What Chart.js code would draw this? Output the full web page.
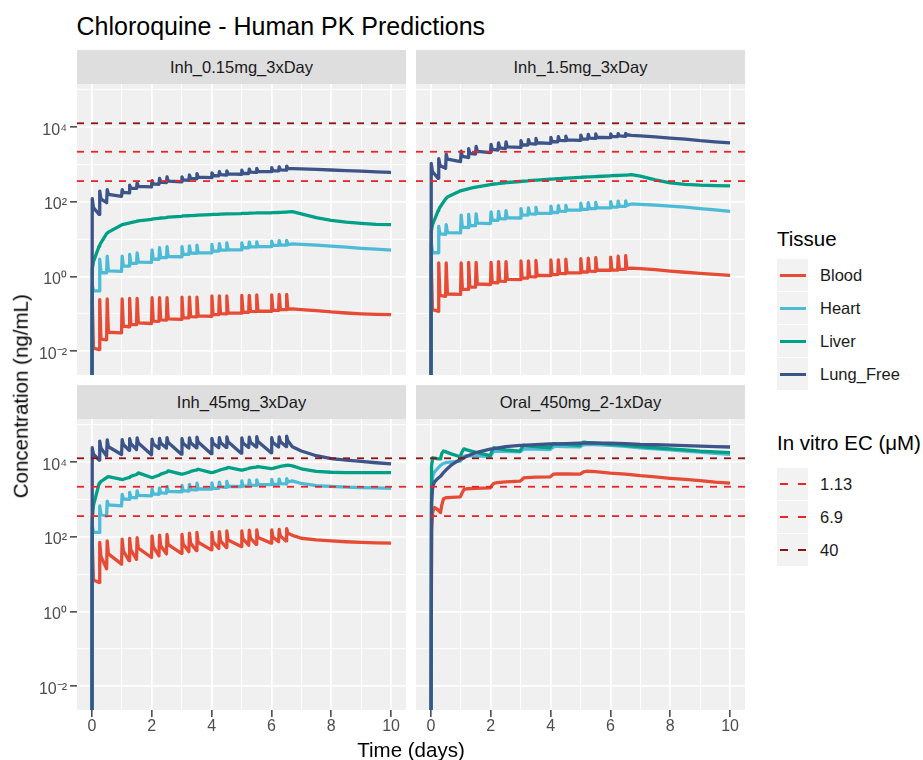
<!DOCTYPE html>
<html><head><meta charset="utf-8">
<script src="https://cdn.jsdelivr.net/npm/chart.js@4.4.1/dist/chart.umd.min.js"></script>
<style>
html,body{margin:0;padding:0;background:#fff;}
body{width:923px;height:760px;position:relative;overflow:hidden;font-family:"Liberation Sans",Arial,Helvetica,sans-serif;}
canvas{position:absolute;}
.t{position:absolute;white-space:nowrap;line-height:1;}
.strip{position:absolute;background:#DEDEDE;height:34px;width:329px;}
.strip .t{left:0;right:0;text-align:center;font-size:16.5px;color:#1A1A1A;top:9.3px;}
.key{position:absolute;left:777px;width:31px;height:32px;background:#F2F2F2;}
.kl{position:absolute;left:3px;width:26px;height:3px;top:14.5px;}
.kd{position:absolute;height:2px;top:15px;width:8px;}
.lt{position:absolute;left:820px;font-size:16.5px;color:#1A1A1A;line-height:1;white-space:nowrap;}
</style></head>
<body>
<div class="t" style="left:76.5px;top:13.8px;font-size:25px;color:#000;">Chloroquine - Human PK Predictions</div>

<div class="strip" style="left:77px;top:50px;"><div class="t" id="s0"></div></div>
<div class="strip" style="left:416px;top:50px;"><div class="t" id="s1"></div></div>
<div class="strip" style="left:77px;top:385px;"><div class="t" id="s2"></div></div>
<div class="strip" style="left:416px;top:385px;"><div class="t" id="s3"></div></div>

<canvas id="c0" width="406" height="291" style="left:0px;top:84px;width:406px;height:291px;"></canvas>
<canvas id="c1" width="329" height="291" style="left:416px;top:84px;width:329px;height:291px;"></canvas>
<canvas id="c2" width="406" height="321" style="left:0px;top:419px;width:406px;height:321px;"></canvas>
<canvas id="c3" width="329" height="321" style="left:416px;top:419px;width:329px;height:321px;"></canvas>

<div class="t" style="left:311px;width:200px;text-align:center;top:740px;font-size:20.5px;color:#000;">Time (days)</div>
<div class="t" style="left:-129px;top:385.75px;width:300px;text-align:center;font-size:20.5px;color:#000;transform:rotate(-90deg);transform-origin:150px 10.25px;">Concentration (ng/mL)</div>

<div id="legend"></div>

<script>
// ---------------- DATA ----------------
const panelNames = ['Inh_0.15mg_3xDay', 'Inh_1.5mg_3xDay', 'Inh_45mg_3xDay', 'Oral_450mg_2-1xDay'];
const tissues = ['Blood', 'Heart', 'Liver', 'Lung_Free'];
const tissueColors = ['#E64B35', '#4DBBD5', '#00A087', '#3C5488'];
const ecLabels = ['1.13', '6.9', '40'];            // in vitro EC (uM)
const ecLevels = [361, 2207, 12795];               // same, in ng/mL
const ecColors = ['#E8262A', '#E8262A', '#8E1414'];
const xTickValues = [0, 1, 2, 3, 4, 5, 6, 7, 8, 9, 10];
const xTickLabels = ['0', '', '2', '', '4', '', '6', '', '8', '', '10'];
const yTickValues = [1e-2, 1e-1, 1, 10, 100, 1000, 1e4, 1e5];
const yTickLabels = ['10\u207B\u00B2', '', '10\u2070', '', '10\u00B2', '', '10\u2074', ''];
const xMin = -0.5, xMax = 10.5;
const yMin = 0.00229, yMax = 144500;

// time grid (days) for the inhaled regimens
const tInh = [0,
 0.01,0.05,0.24,0.26,0.30,0.49,0.51,0.55,0.99,
 1.01,1.05,1.24,1.26,1.30,1.49,1.51,1.55,1.99,
 2.01,2.05,2.24,2.26,2.30,2.49,2.51,2.55,2.99,
 3.01,3.05,3.24,3.26,3.30,3.49,3.51,3.55,3.99,
 4.01,4.05,4.24,4.26,4.30,4.49,4.51,4.55,4.99,
 5.01,5.05,5.24,5.26,5.30,5.49,5.51,5.55,5.99,
 6.01,6.05,6.24,6.26,6.30,6.49,6.51,6.55,
 6.7,7.0,7.5,8.0,8.5,9.0,9.5,10.0];

// time grid (days) for the oral regimen
const tOral = [0,0.02,0.06,0.12,0.2,0.32,0.36,0.42,0.5,0.7,0.98,
 1.04,1.1,1.2,1.5,1.98,
 2.04,2.1,2.2,2.5,2.98,
 3.04,3.1,3.2,3.5,3.98,
 4.04,4.1,4.2,4.5,4.98,
 5.04,5.1,5.2,5.5,
 6,6.5,7,7.5,8,8.5,9,9.5,10];

// ---- Inh_0.15mg_3xDay (ng/mL)
const inh015Blood = [0.0001,
 0.24,0.012,0.011,0.24,0.021,0.020,0.25,0.032,0.031,
 0.25,0.047,0.045,0.26,0.052,0.051,0.26,0.057,0.055,
 0.27,0.064,0.063,0.27,0.069,0.068,0.27,0.073,0.071,
 0.28,0.079,0.078,0.28,0.084,0.083,0.28,0.088,0.086,
 0.30,0.096,0.095,0.30,0.101,0.100,0.30,0.106,0.104,
 0.31,0.111,0.110,0.31,0.116,0.115,0.32,0.118,0.117,
 0.32,0.124,0.123,0.33,0.130,0.129,0.33,0.134,
 0.135,0.130,0.122,0.112,0.105,0.100,0.097,0.095];
const inh015Heart = [0.0001,
 0.6,0.42,0.41,2.9,1.28,1.26,3.5,1.42,1.38,
 3.5,1.92,1.9,3.9,2.26,2.24,4.3,2.42,2.38,
 5.2,2.92,2.9,5.9,3.22,3.2,6.3,3.42,3.38,
 6.3,3.92,3.9,6.6,4.22,4.2,6.9,4.32,4.3,
 7.2,4.82,4.8,7.6,5.12,5.1,7.9,5.22,5.2,
 7.9,5.92,5.9,8.3,6.22,6.2,8.5,6.32,6.3,
 8.9,6.82,6.8,9.1,6.92,6.9,9.3,7.2,
 7.5,7.3,6.9,6.5,6.1,5.7,5.4,5.1];
const inh015Liver = [0.0001,
 1.6,2.5,6.5,7.0,8.0,14,14.5,15.5,24,
 24.5,25,27,27.5,28,30,30.5,31,34,
 34.5,35,36,36.5,37,38,38.5,39,41,
 41.5,42,42.5,43,43,43.5,44,44,45.5,
 46,46,46.5,47,47,47.5,48,48,48.5,
 49,49,49.5,50,50,50.5,50.5,51,51,
 51.5,51.5,52,52,52.5,53,53.5,54,
 55,48,38,32,28.5,26.5,25,24.5];
const inh015Lung = [0.0001,
 123,70,46,195,120,95,214,160,141,
 214,180,174,282,235,229,324,262,251,
 372,305,295,427,340,331,468,360,347,
 468,390,380,525,425,417,575,460,447,
 603,510,501,646,535,525,676,560,550,
 708,585,575,759,625,617,794,655,646,
 832,690,676,871,720,708,912,790,
 780,765,740,715,690,665,640,617];

// ---- Inh_1.5mg_3xDay (ng/mL)
const inh15Blood = [0.0001,
 2.3,0.13,0.117,2.3,0.31,0.295,2.3,0.34,0.33,
 2.3,0.46,0.45,2.4,0.53,0.52,2.4,0.63,0.61,
 2.4,0.69,0.68,2.5,0.75,0.74,2.5,0.84,0.82,
 2.6,0.92,0.91,2.6,0.99,0.98,2.7,1.08,1.06,
 2.8,1.13,1.12,2.8,1.21,1.2,2.9,1.27,1.25,
 3.0,1.33,1.32,3.1,1.39,1.38,3.2,1.49,1.47,
 3.3,1.49,1.48,3.5,1.56,1.55,3.6,1.65,
 1.68,1.62,1.52,1.40,1.30,1.21,1.14,1.07];
const inh15Heart = [0.0001,
 8,4.4,4.3,22,13.8,13.5,24.5,15,14.8,
 44,21,20.4,46,23.5,23,48,26.8,26.3,
 54,32.5,32,56,35.5,35,58,37.5,37,
 66,44.5,44,69,47.5,47,71,49.5,49,
 77,52.5,52,79,56.5,56,81,60.5,60,
 92,63.5,63,95,66.5,66,97,69.5,69,
 102,72.5,72,105,76.5,76,107,80,
 88,86,82,77,72,66,61,56];
const inh15Liver = [0.0001,
 16,24,58,62,72,120,125,135,198,
 200,204,222,225,229,248,250,254,292,
 294,297,310,312,315,326,328,331,352,
 354,357,368,370,372,381,382,385,405,
 406,408,418,419,421,430,431,433,455,
 456,458,466,467,469,476,477,479,500,
 501,503,510,511,513,520,521,524,
 535,490,390,325,295,280,272,269];
const inh15Lung = [0.0001,
 1070,650,427,1445,950,794,1905,1400,1200,
 2290,1650,1550,2690,2000,1905,3090,2250,2090,
 3470,2550,2450,3800,2800,2690,4070,3000,2880,
 4365,3400,3310,4680,3650,3550,5010,3850,3715,
 5370,4150,4070,5620,4450,4365,5750,4600,4470,
 6170,4900,4790,6460,5100,5010,6610,5400,5250,
 6610,5700,5620,6760,5850,5750,6900,6300,
 6100,5900,5500,5130,4790,4370,4070,3800];

// ---- Inh_45mg_3xDay (ng/mL)
const inh45Blood = [0.0001,
 70,7,6,71,30,14,78,35,18.6,
 87,42,23,91,45,25,95,50,28,
 107,55,31,112,58,35,117,62,36,
 117,65,40,126,68,43,132,72,45,
 132,75,49,138,78,52,145,82,55,
 145,88,60,151,92,63,155,96,68,
 155,100,74,158,105,78,166,125,
 110,92,83,78,74,71,69,68];
const inh45Heart = [0.0001,
 200,135,132,676,400,363,912,720,676,
 1380,1050,1020,1550,1150,1120,1700,1300,1260,
 1905,1420,1380,2040,1520,1480,2240,1660,1620,
 2400,1740,1700,2570,1860,1820,2750,1950,1905,
 2820,2040,2000,2950,2180,2140,3090,2280,2240,
 3160,2330,2290,3310,2440,2400,3390,2550,2510,
 3470,2610,2570,3550,2680,2630,3630,3000,
 3160,2700,2350,2250,2150,2100,2050,2000];
const inh45Liver = [0.0001,
 300,700,2700,2850,3050,3900,4000,4150,3500,
 3450,3500,3900,4000,4200,4700,4800,5200,3900,
 3880,3950,4500,4600,4800,5400,5500,5900,4800,
 4790,4850,5400,5500,5700,6200,6300,6500,5250,
 5250,5350,6000,6100,6300,6900,7000,7250,6200,
 6170,6250,6800,6900,7100,7400,7500,7600,6800,
 6760,6850,7500,7600,7800,8200,8300,8400,
 8000,6700,5700,5400,5300,5250,5250,5250];
const inh45Lung = [0.0001,
 24500,16500,11500,37000,24000,14800,40000,26000,16200,
 40700,30000,21000,42700,31500,22000,44700,33000,16000,
 41700,31000,23400,43600,32500,24000,45700,34000,16500,
 42700,32000,24000,44700,33500,24500,46800,35000,17000,
 43600,32500,24500,45700,34000,25000,47900,35500,17500,
 44700,33000,25000,46800,34500,25700,48900,36000,18000,
 45700,34000,25700,47900,35500,26300,50000,38000,
 26000,20000,15000,12600,11400,10500,9700,9100];

// ---- Oral_450mg_2-1xDay (ng/mL)
const oralBlood = [0.0001,150,480,610,560,450,700,1050,1120,1150,1180,
 1500,1850,1950,2000,2050,
 2400,2700,2850,3000,3140,
 3400,3800,3900,4000,4070,
 4400,4800,4900,4850,4790,
 5100,5500,5750,5620,
 5130,4790,4370,4070,3720,3470,3240,2950,2750];
const oralHeart = [0.0001,1500,4270,5500,6500,8300,8700,9300,9800,10300,10700,
 12500,14500,15100,14800,14100,
 17000,19500,20000,19700,19000,
 21000,22500,22900,22600,22000,
 24000,26000,26900,26500,26000,
 28000,29500,30200,29800,
 28200,26600,24500,23000,21400,20000,18600,17400,16200];
const oralLiver = [0.0001,8000,13200,13000,12600,12300,17000,20000,19000,16500,14100,
 19000,22900,21500,18500,15100,
 20000,24500,23500,21500,20000,
 24500,28200,27500,26500,24500,
 28500,31600,31000,30000,28200,
 32000,34700,34000,33000,
 30200,28500,26300,24500,22900,21500,20000,19000,18200];
const oralLung = [0.0001,800,2300,3000,3500,4200,4600,5300,6200,8700,12000,
 12500,13200,14500,18200,22400,
 22800,23200,24000,26300,28200,
 28400,28600,28900,29800,30900,
 31000,31100,31300,31800,32400,
 32500,32500,32600,32600,
 32400,31600,30200,29500,28800,28000,27000,26300,25700];

// ---------------- DRAWING ----------------
const FONT = '"Liberation Sans", Arial, Helvetica, sans-serif';

const panelBg = {
  id: 'panelBg',
  beforeDraw(chart) {
    const a = chart.chartArea, c = chart.ctx;
    c.save(); c.fillStyle = '#F0F0F0';
    c.fillRect(a.left, a.top, a.right - a.left, a.bottom - a.top);
    c.restore();
  }
};

function buildPanel(idx, times, series, showY, showX) {
  document.getElementById('s' + idx).textContent = panelNames[idx];
  const datasets = [];
  ecLevels.forEach((v, i) => datasets.push({
    label: 'EC ' + ecLabels[i],
    data: [{x: xMin, y: v}, {x: xMax, y: v}],
    borderColor: ecColors[i], borderWidth: 1.8, borderDash: [7, 7],
    pointRadius: 0, order: 0, tension: 0
  }));
  series.forEach((arr, i) => datasets.push({
    label: tissues[i],
    data: times.map((t, j) => ({x: t, y: arr[j]})),
    borderColor: tissueColors[i], borderWidth: 3.3, pointRadius: 0,
    order: 4 - i, tension: 0, borderJoinStyle: 'round'
  }));
  new Chart(document.getElementById('c' + idx), {
    type: 'line',
    data: {datasets},
    plugins: [panelBg],
    options: {
      responsive: false, animation: false, devicePixelRatio: 1,
      layout: {padding: 0, autoPadding: false},
      plugins: {legend: {display: false}, tooltip: {enabled: false}},
      events: [],
      scales: {
        x: {
          type: 'linear', min: xMin, max: xMax,
          afterBuildTicks: s => { s.ticks = xTickValues.map(v => ({value: v})); },
          afterFit: s => { s.height = showX ? 30 : 0; s.paddingLeft = 0; s.paddingRight = 0; },
          border: {display: false},
          grid: {
            color: '#FFFFFF',
            lineWidth: c => (c.tick && c.tick.value % 2 === 0) ? 1.7 : 0.9,
            drawTicks: showX, tickLength: 7, tickWidth: 1.4,
            tickColor: c => (c.tick && c.tick.value % 2 === 0) ? '#333333' : 'rgba(0,0,0,0)'
          },
          ticks: {
            display: showX, autoSkip: false, maxRotation: 0, padding: 0,
            color: '#4D4D4D', font: {family: FONT, size: 16},
            callback: (v, i) => xTickLabels[i]
          }
        },
        y: {
          type: 'logarithmic', min: yMin, max: yMax,
          afterBuildTicks: s => { s.ticks = yTickValues.map(v => ({value: v})); },
          afterFit: s => { s.width = showY ? 77 : 0; s.paddingTop = 0; s.paddingBottom = 0; },
          border: {display: false},
          grid: {
            color: '#FFFFFF',
            lineWidth: c => (c.index % 2 === 0) ? 1.7 : 0.9,
            drawTicks: showY, tickLength: 7, tickWidth: 1.4,
            tickColor: c => (c.index % 2 === 0) ? '#333333' : 'rgba(0,0,0,0)'
          },
          ticks: {
            display: showY, autoSkip: false, padding: 3, labelOffset: 3,
            color: '#4D4D4D', font: {family: FONT, size: 16},
            callback: (v, i) => yTickLabels[i]
          }
        }
      }
    }
  });
}

buildPanel(0, tInh, [inh015Blood, inh015Heart, inh015Liver, inh015Lung], true, false);
buildPanel(1, tInh, [inh15Blood, inh15Heart, inh15Liver, inh15Lung], false, false);
buildPanel(2, tInh, [inh45Blood, inh45Heart, inh45Liver, inh45Lung], true, true);
buildPanel(3, tOral, [oralBlood, oralHeart, oralLiver, oralLung], false, true);

// ---------------- LEGEND ----------------
(function () {
  const lg = document.getElementById('legend');
  let h = '<div class="t" style="left:777px;top:228.6px;font-size:20.5px;color:#000;">Tissue</div>';
  const tRows = [275, 308, 341, 374];
  tissues.forEach((n, i) => {
    const c = tRows[i];
    h += '<div class="key" style="top:' + (c - 16) + 'px;"><div class="kl" style="background:' + tissueColors[i] + ';"></div></div>';
    h += '<div class="lt" style="top:' + (c + 6 - 13.97) + 'px;">' + n + '</div>';
  });
  h += '<div class="t" style="left:777px;top:432.5px;font-size:20.5px;color:#000;">In vitro EC (\u03BCM)</div>';
  const eRows = [483.6, 516.6, 549.6];
  ecLabels.forEach((n, i) => {
    const c = eRows[i];
    h += '<div class="key" style="top:' + (c - 16) + 'px;">' +
      '<div class="kd" style="left:2.5px;background:' + ecColors[i] + ';"></div>' +
      '<div class="kd" style="left:21px;background:' + ecColors[i] + ';"></div></div>';
    h += '<div class="lt" style="top:' + (c + 6 - 13.97) + 'px;">' + n + '</div>';
  });
  lg.innerHTML = h;
})();
</script>
</body></html>
